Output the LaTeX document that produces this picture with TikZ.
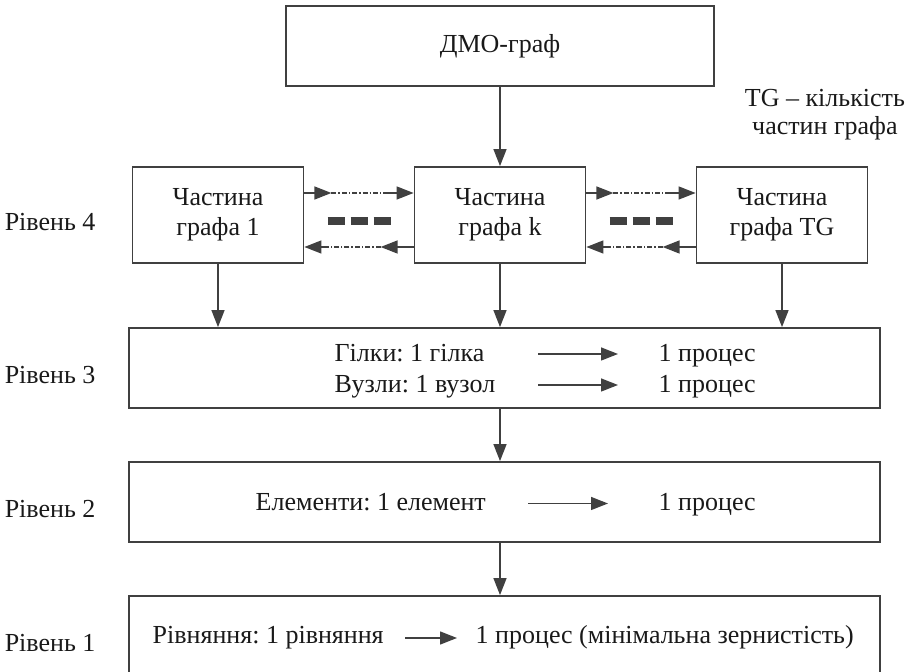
\documentclass[tikz,border=0pt]{standalone}
\usepackage{fontspec}
\setmainfont{Liberation Serif}
\usetikzlibrary{positioning, calc, arrows.meta}
\frenchspacing

\begin{document}
\begin{tikzpicture}[>={Triangle[length=8.5pt,width=6.5pt]}, node distance=141pt, on grid,
					color=black!75, text=black!90, line width=0.7pt, inner sep=0pt,
					font=\fontsize{13}{15}\selectfont,
					box/.style={draw, line width=0.9pt, align=center},
					part/.style={box, minimum width=85.5pt, minimum height=48pt},
					level/.style={box, minimum width=375.5pt, minimum height=40pt},
					dashdot/.style={dash pattern=on 2.5pt off 1pt on 0.7pt off 1pt},
					dots/.style={line width=4pt, dash pattern=on 8.5pt off 3pt}]
	\useasboundingbox (0,0) rectangle (455pt,-336pt);

	\node[box, minimum width=214pt, minimum height=40pt] (dmo) at (250pt,-23pt) {ДМО-граф};
	\node[align=center, font=\fontsize{13}{14}\selectfont] (tg)
		at ($(dmo.south east)+(55pt,-14pt)$) {TG – кількість\\частин графа};

	\node[part] (pk)  [below=84.5pt of dmo] {Частина\\графа k};
	\node[part] (p1)  [left=of pk]          {Частина\\графа 1};
	\node[part] (ptg) [right=of pk]         {Частина\\графа TG};

	\node[level] (lvl3) [below=76.5pt of pk, xshift=2.25pt] {};
	\node[level] (lvl2) [below=67pt of lvl3] {};
	\node[level] (lvl1) [below=67pt of lvl2] {};

	%рівні
	\node[anchor=base east] (r3) at ($(lvl3.west)+(-16pt,-8pt)$) {Рівень 3};
	\node[anchor=base east] (r2) at ($(lvl2.west)+(-16pt,-8pt)$) {Рівень 2};
	\node[anchor=base east] (r1) at ($(lvl1.west)+(-16pt,-8pt)$) {Рівень 1};
	\node[anchor=base east] (r4) at ($(r3.base east |- p1.center)+(0,-8pt)$) {Рівень 4};

	%рівень 3
	\node[anchor=base west] (br) at ($(lvl3.center)+(-85.25pt,3pt)$)   {Гілки: 1 гілка};
	\node[anchor=base west] (nd) at ($(lvl3.center)+(-85.25pt,-12.5pt)$) {Вузли: 1 вузол};
	\node[anchor=base west] (brp) at ($(lvl3.center)+(76.75pt,3pt)$)   {1 процес};
	\node[anchor=base west] (ndp) at ($(lvl3.center)+(76.75pt,-12.5pt)$) {1 процес};
	\coordinate (b3a) at ($(lvl3.center)+(16.75pt,7pt)$);
	\coordinate (b3b) at ($(lvl3.center)+(56.75pt,7pt)$);
	\coordinate (n3a) at ($(lvl3.center)+(16.75pt,-8.5pt)$);
	\coordinate (n3b) at ($(lvl3.center)+(56.75pt,-8.5pt)$);

	%рівень 2
	\node[anchor=base west] (el)  at ($(lvl2.center)+(-124.75pt,-4.5pt)$) {Елементи: 1 елемент};
	\node[anchor=base west] (elp) at ($(lvl2.center)+(76.75pt,-4.5pt)$)   {1 процес};
	\coordinate (e2a) at ($(lvl2.center)+(11.75pt,-0.75pt)$);
	\coordinate (e2b) at ($(lvl2.center)+(51.75pt,-0.75pt)$);

	%рівень 1
	\node[anchor=base west] (eq)  at ($(lvl1.center)+(-176.25pt,-4pt)$) {Рівняння: 1 рівняння};
	\node[anchor=base west] (eqp) at ($(lvl1.center)+(-14.75pt,-4pt)$)  {1 процес (мінімальна зернистість)};
	\coordinate (q1a) at ($(lvl1.center)+(-49.75pt,-1pt)$);
	\coordinate (q1b) at ($(lvl1.center)+(-23.75pt,-1pt)$);

	\path[->] (dmo) edge (pk)
		(p1)  edge (p1 |- lvl3.north)
		(pk)  edge (pk |- lvl3.north)
		(ptg) edge (ptg |- lvl3.north)
		(lvl3.south -| pk) edge (lvl2.north -| pk)
		(lvl2.south -| pk) edge (lvl1.north -| pk)
		(b3a) edge (b3b)
		(n3a) edge (n3b)
		(e2a) edge (e2b)
		(q1a) edge (q1b);

	%обмін між частинами графа
	\foreach \l/\r in {p1/pk, pk/ptg} {
		\coordinate (ua) at ([yshift=11pt]\l.east);
		\coordinate (ub) at ([xshift=13.5pt, yshift=11pt]\l.east);
		\coordinate (uc) at ([xshift=-13pt, yshift=11pt]\r.west);
		\coordinate (ud) at ([yshift=11pt]\r.west);
		\coordinate (la) at ([yshift=-16pt]\r.west);
		\coordinate (lb) at ([xshift=-16.5pt, yshift=-16pt]\r.west);
		\coordinate (lc) at ([xshift=12pt, yshift=-16pt]\l.east);
		\coordinate (ld) at ([yshift=-16pt]\l.east);
		\coordinate (m)  at ($(\l.east)!0.5!(\r.west)$);
		\draw[->] (ua) -- (ub);
		\draw[dashdot] (ub) -- (uc);
		\draw[->] (uc) -- (ud);
		\draw[->] (la) -- (lb);
		\draw[dashdot] (lb) -- (lc);
		\draw[->] (lc) -- (ld);
		\draw[dots] ([xshift=-15.75pt, yshift=-3pt]m) -- ([xshift=15.75pt, yshift=-3pt]m);
	}
\end{tikzpicture}
\end{document}
